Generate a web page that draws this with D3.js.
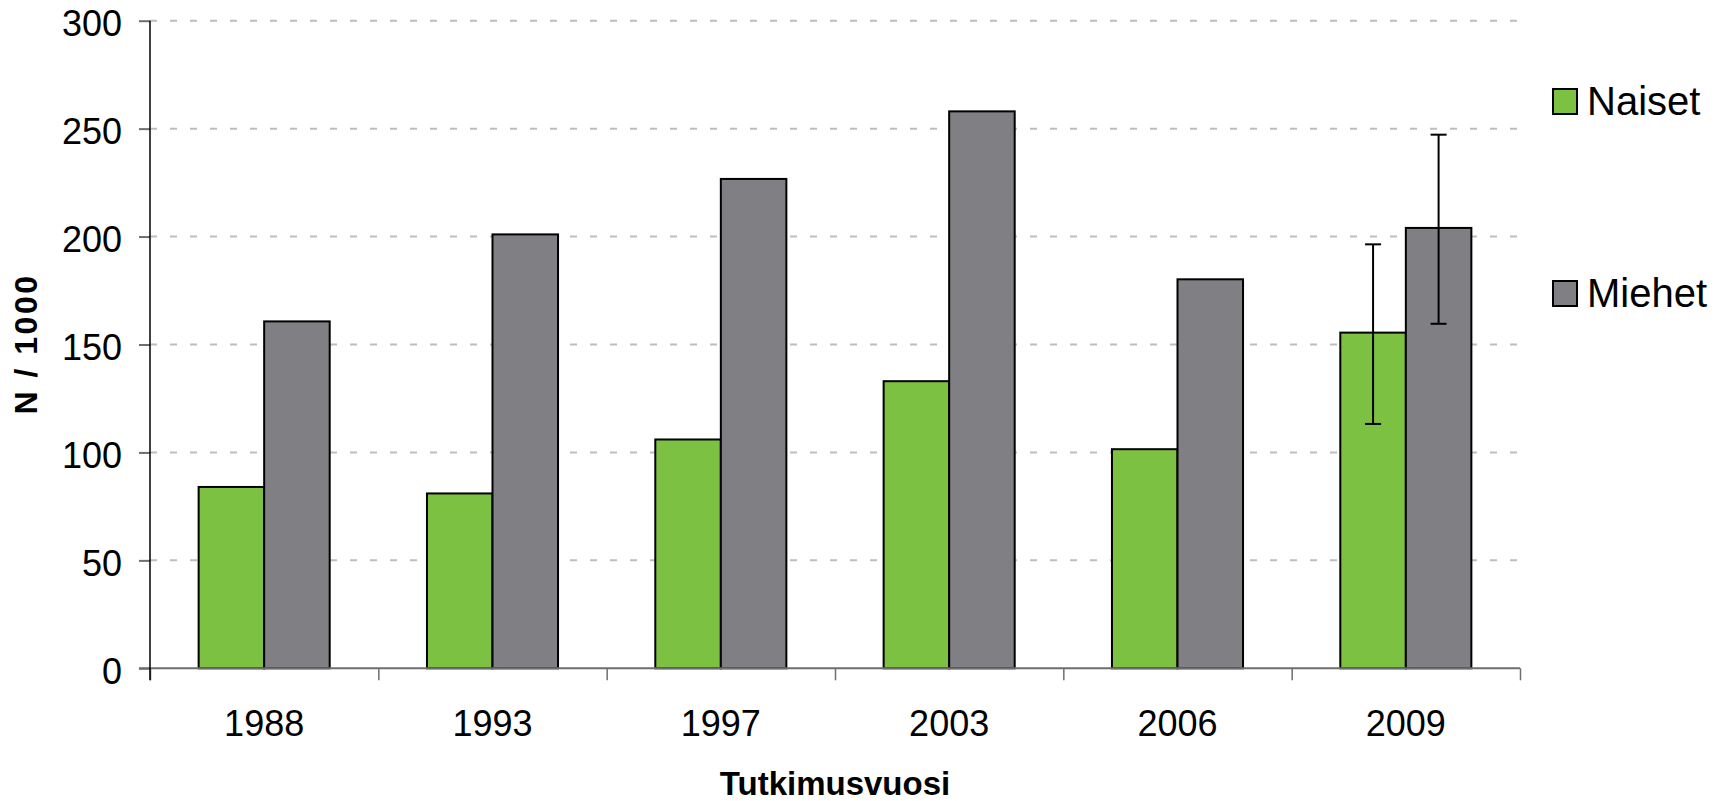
<!DOCTYPE html>
<html>
<head>
<meta charset="utf-8">
<script src="https://cdn.jsdelivr.net/npm/d3@7"></script>
<style>
  body { margin: 0; background: #fff; }
  text { font-family: "Liberation Sans", Arial, sans-serif; fill: #000; }
</style>
</head>
<body>
<script>
var width = 1726,
    height = 801;

// data
var years = ["1988", "1993", "1997", "2003", "2006", "2009"];
var series = ["Naiset", "Miehet"];
var naiset = [84, 81, 106, 133, 101.5, 155.5];
var miehet = [160.7, 201, 226.7, 258, 180.2, 204];
// error bars only for 2009 : [low, high]
var errNaiset = [null, null, null, null, null, [113.2, 196.4]];
var errMiehet = [null, null, null, null, null, [159.6, 247.2]];
var yTicks = [0, 50, 100, 150, 200, 250, 300];
var colors = ["#7dc142", "#807f84"];

var mLeft = 150, mRight = 1520, mTop = 20.7, mBottom = 668.3; // plot area

var svg = d3.select("body").append("svg").attr("width", width).attr("height", height);
svg.append("rect").attr("width", width).attr("height", height).attr("fill", "#fff");

var y = d3.scaleLinear().domain([0, 300]).range([mBottom, mTop]);
var x0 = d3.scaleBand().domain(years).range([mLeft, mRight]).paddingInner(0.426).paddingOuter(0.213);
var x1 = d3.scaleBand().domain(series).range([0, x0.bandwidth()]);
var xb = d3.scaleLinear().domain([0, years.length]).range([mLeft, mRight]); // category boundaries

// gridlines
svg.append("g").selectAll("line").data(yTicks.filter(d => d > 0)).enter().append("line")
    .attr("x1", mLeft).attr("x2", mRight)
    .attr("y1", d => y(d)).attr("y2", d => y(d))
    .attr("stroke", "#bdbdbd").attr("stroke-width", 2)
    .attr("stroke-dasharray", "7,13");

// bars
var rows = years.map(function (yr, i) {
    return {year: yr, vals: [
        {s: "Naiset", v: naiset[i], err: errNaiset[i], c: colors[0]},
        {s: "Miehet", v: miehet[i], err: errMiehet[i], c: colors[1]}
    ]};
});

var grp = svg.append("g").selectAll("g").data(rows).enter().append("g")
    .attr("transform", d => "translate(" + x0(d.year) + ",0)");

grp.selectAll("rect").data(d => d.vals).enter().append("rect")
    .attr("x", d => x1(d.s))
    .attr("y", d => y(d.v))
    .attr("width", x1.bandwidth())
    .attr("height", d => y(0) - y(d.v))
    .attr("fill", d => d.c)
    .attr("stroke", "#000")
    .attr("stroke-width", 2);

// error bars
var eb = grp.selectAll("g.err").data(d => d.vals.filter(v => v.err)).enter().append("g")
    .attr("class", "err")
    .attr("stroke", "#000").attr("stroke-width", 2);
eb.append("line")
    .attr("x1", d => x1(d.s) + x1.bandwidth() / 2).attr("x2", d => x1(d.s) + x1.bandwidth() / 2)
    .attr("y1", d => y(d.err[0])).attr("y2", d => y(d.err[1]));
eb.selectAll("line.cap").data(d => d.err.map(e => ({s: d.s, e: e}))).enter().append("line")
    .attr("class", "cap")
    .attr("x1", d => x1(d.s) + x1.bandwidth() / 2 - 8).attr("x2", d => x1(d.s) + x1.bandwidth() / 2 + 8)
    .attr("y1", d => y(d.e)).attr("y2", d => y(d.e));

// x axis: boundary ticks
var xAxis = svg.append("g").attr("transform", "translate(0," + mBottom + ")")
    .call(d3.axisBottom(xb).tickValues(d3.range(years.length + 1)).tickFormat("").tickSize(12).tickSizeOuter(0));
xAxis.select(".domain").remove();
xAxis.selectAll(".tick line").attr("stroke", "#6e6e6e").attr("stroke-width", 1.5);
svg.append("line").attr("x1", mLeft - 11).attr("x2", mRight).attr("y1", mBottom).attr("y2", mBottom)
    .attr("stroke", "#6e6e6e").attr("stroke-width", 2);

// x labels
var xLab = svg.append("g").attr("transform", "translate(0," + mBottom + ")")
    .call(d3.axisBottom(x0).tickSize(0).tickPadding(0));
xLab.select(".domain").remove();
xLab.selectAll("text").attr("font-size", "36px").attr("dy", null).attr("y", 68)
    .style("font-family", "'Liberation Sans', Arial, sans-serif").attr("fill", "#000");

// y axis
var yAxis = svg.append("g").attr("transform", "translate(" + mLeft + ",0)")
    .call(d3.axisLeft(y).tickValues(yTicks).tickSize(11).tickPadding(17).tickSizeOuter(0));
yAxis.select(".domain").remove();
yAxis.selectAll(".tick line").attr("stroke", "#6e6e6e").attr("stroke-width", 2);
yAxis.selectAll("text").attr("font-size", "36px").attr("dy", "0.41em")
    .style("font-family", "'Liberation Sans', Arial, sans-serif").attr("fill", "#000");
svg.append("line").attr("x1", mLeft).attr("x2", mLeft).attr("y1", mTop).attr("y2", mBottom + 12)
    .attr("stroke", "#000").attr("stroke-width", 1.5);

// axis titles
svg.append("text").attr("x", (mLeft + mRight) / 2).attr("y", 795)
    .attr("text-anchor", "middle").attr("font-size", "33px").attr("font-weight", "bold")
    .text("Tutkimusvuosi");
svg.append("text").attr("transform", "translate(37,344) rotate(-90)")
    .attr("text-anchor", "middle").attr("font-size", "32px").attr("font-weight", "bold")
    .attr("letter-spacing", "2.5px")
    .text("N / 1000");

// legend
var legY = [101, 293];
var leg = svg.append("g").selectAll("g").data(series).enter().append("g")
    .attr("transform", (d, i) => "translate(1553," + legY[i] + ")");
leg.append("rect").attr("x", 0).attr("y", -12).attr("width", 24).attr("height", 25)
    .attr("fill", (d, i) => colors[i]).attr("stroke", "#000").attr("stroke-width", 2);
leg.append("text").attr("x", 34).attr("y", 14).attr("font-size", "40px").text(d => d);
</script>
</body>
</html>
